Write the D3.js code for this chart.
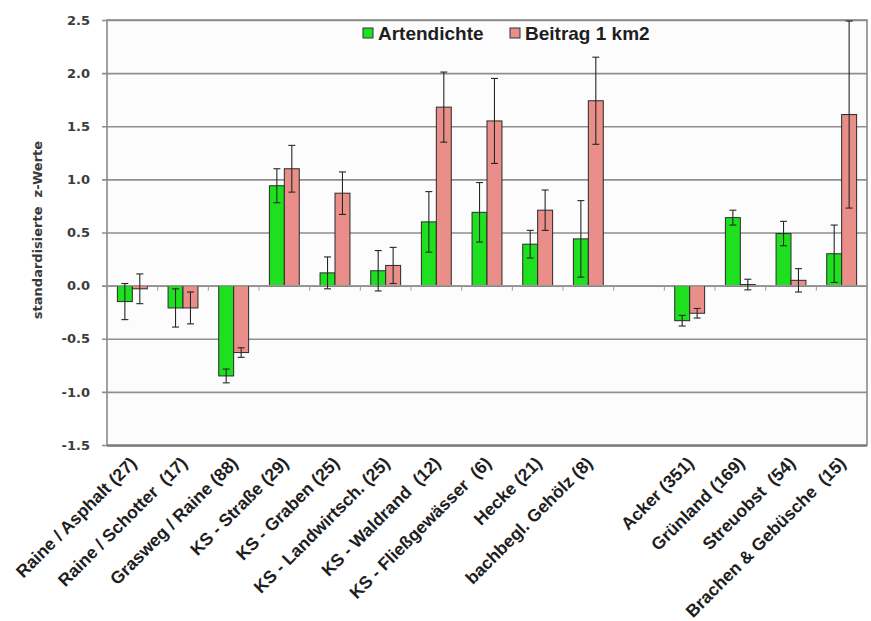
<!DOCTYPE html>
<html>
<head>
<meta charset="utf-8">
<script src="https://cdn.jsdelivr.net/npm/d3@7"></script>
<style>
  html, body { margin: 0; padding: 0; background: #ffffff; }
  svg { display: block; }
</style>
</head>
<body>
<svg id="chart" width="871" height="621"></svg>
<script>
// Habitat categories (sample size in brackets); "" leaves an empty gap between the two groups
const categories = [
  "Raine / Asphalt (27)", "Raine / Schotter  (17)", "Grasweg / Raine (88)",
  "KS - Straße (29)", "KS - Graben (25)", "KS - Landwirtsch. (25)",
  "KS - Waldrand  (12)", "KS - Fließgewässer  (6)", "Hecke (21)",
  "bachbegl. Gehölz (8)", "",
  "Acker (351)", "Grünland (169)", "Streuobst  (54)", "Brachen & Gebüsche  (15)"
];
const seriesNames = ["Artendichte", "Beitrag 1 km2"];
const artendichte    = [-0.15, -0.21, -0.85, 0.94, 0.12, 0.14, 0.60, 0.69, 0.39, 0.44, null, -0.33, 0.64, 0.49, 0.30];
const artendichteErr = [ 0.17,  0.18,  0.065, 0.16, 0.15, 0.19, 0.285, 0.28, 0.13, 0.36, null, 0.05, 0.07, 0.115, 0.27];
const beitrag        = [-0.03, -0.21, -0.63, 1.10, 0.87, 0.19, 1.68, 1.55, 0.71, 1.74, null, -0.26, 0.01, 0.05, 1.61];
const beitragErr     = [ 0.14,  0.15,  0.045, 0.22, 0.20, 0.17, 0.33, 0.40, 0.19, 0.41, null, 0.045, 0.05, 0.11, 0.88];
const yTicks = [-1.5, -1.0, -0.5, 0.0, 0.5, 1.0, 1.5, 2.0, 2.5];

const colors = ["#1fe01f", "#e98e88"];
const values = [artendichte, beitrag];
const errors = [artendichteErr, beitragErr];

const svg = d3.select("#chart");
const plot = { left: 107, right: 867, top: 20, bottom: 445 };

const y = d3.scaleLinear().domain([-1.5, 2.5]).range([plot.bottom, plot.top]);
const x = d3.scaleBand()
  .domain(d3.range(categories.length))
  .range([plot.left, plot.right])
  .paddingInner(0.41)
  .paddingOuter(0.205);
const xs = d3.scaleBand().domain(d3.range(seriesNames.length)).range([0, x.bandwidth()]);
const step = x.step();

// plot area background
svg.append("rect")
  .attr("x", plot.left).attr("y", plot.top)
  .attr("width", plot.right - plot.left).attr("height", plot.bottom - plot.top)
  .attr("fill", "#fcfcfc");

// horizontal gridlines with short outer ticks; labels use a plain hyphen for negatives
const fmt = d => d.toFixed(1);
const yAxis = d3.axisLeft(y).tickValues(yTicks)
  .tickSize(-(plot.right - plot.left)).tickSizeOuter(0)
  .tickFormat(fmt);
const gy = svg.append("g").attr("transform", `translate(${plot.left},0)`).call(yAxis);
gy.select(".domain").remove();
gy.selectAll(".tick line").attr("stroke", "#8e8e8e").attr("stroke-width", 1.6).attr("x1", -5);
gy.selectAll(".tick text")
  .attr("x", -17)
  .attr("fill", "#3c3c3c")
  .style("font-family", "'DejaVu Sans', sans-serif")
  .style("font-weight", "bold")
  .style("font-size", "13px");

// plot border
svg.append("rect")
  .attr("x", plot.left).attr("y", plot.top)
  .attr("width", plot.right - plot.left).attr("height", plot.bottom - plot.top)
  .attr("fill", "none").attr("stroke", "#8a8a8a").attr("stroke-width", 1.6);
svg.append("line")
  .attr("x1", plot.left).attr("x2", plot.right)
  .attr("y1", plot.bottom + 1).attr("y2", plot.bottom + 1)
  .attr("stroke", "#777").attr("stroke-width", 1.5);

// category tick marks on the zero line
const boundaries = d3.range(categories.length + 1).map(i => plot.left + i * step);
svg.append("g").selectAll("line").data(boundaries).join("line")
  .attr("x1", d => d).attr("x2", d => d)
  .attr("y1", y(0)).attr("y2", y(0) + 5)
  .attr("stroke", "#9a9a9a").attr("stroke-width", 1);

// bars
const barData = [];
categories.forEach((c, i) => {
  seriesNames.forEach((s, k) => {
    const v = values[k][i];
    if (v === null) return;
    barData.push({ i, k, v, e: errors[k][i] });
  });
});

svg.append("g").selectAll("rect").data(barData).join("rect")
  .attr("x", d => x(d.i) + xs(d.k))
  .attr("width", xs.bandwidth())
  .attr("y", d => Math.min(y(0), y(d.v)))
  .attr("height", d => Math.abs(y(d.v) - y(0)))
  .attr("fill", d => colors[d.k])
  .attr("stroke", "#2a2a2a").attr("stroke-width", 1);

// zero line
svg.append("line")
  .attr("x1", plot.left).attr("x2", plot.right)
  .attr("y1", y(0)).attr("y2", y(0))
  .attr("stroke", "#9a9a9a").attr("stroke-width", 1.2);

// error bars
const cap = 3.5;
const eg = svg.append("g").attr("stroke", "#262626").attr("stroke-width", 1.1);
barData.forEach(d => {
  const cx = x(d.i) + xs(d.k) + xs.bandwidth() / 2;
  const y1 = y(d.v + d.e), y2 = y(d.v - d.e);
  eg.append("line").attr("x1", cx).attr("x2", cx).attr("y1", y1).attr("y2", y2);
  eg.append("line").attr("x1", cx - cap).attr("x2", cx + cap).attr("y1", y1).attr("y2", y1);
  eg.append("line").attr("x1", cx - cap).attr("x2", cx + cap).attr("y1", y2).attr("y2", y2);
});

// category labels, rotated
svg.append("g").selectAll("text")
  .data(categories.map((c, i) => ({ c, i })).filter(d => d.c !== ""))
  .join("text")
  .attr("transform", d => `translate(${x(d.i) + x.bandwidth() / 2 + 1},${plot.bottom + 15}) rotate(-45)`)
  .attr("text-anchor", "end")
  .attr("dy", "0.35em")
  .attr("fill", "#1e1e1e")
  .style("font-family", "'Liberation Sans', Arial, sans-serif")
  .style("font-weight", "bold")
  .style("font-size", "17.5px")
  .style("white-space", "pre")
  .text(d => d.c);

// y axis title
svg.append("text")
  .attr("transform", `translate(42,230) rotate(-90)`)
  .attr("text-anchor", "middle")
  .attr("fill", "#3a3a3a")
  .style("font-family", "'DejaVu Sans', sans-serif")
  .style("font-weight", "bold")
  .style("font-size", "13px")
  .style("white-space", "pre")
  .text("standardisierte  z-Werte");

// legend
const legendX = [363, 510];
const lg = svg.append("g");
seriesNames.forEach((s, k) => {
  lg.append("rect")
    .attr("x", legendX[k]).attr("y", 28)
    .attr("width", 10).attr("height", 10)
    .attr("fill", colors[k]).attr("stroke", "#333").attr("stroke-width", 1);
  lg.append("text")
    .attr("x", legendX[k] + 15).attr("y", 40)
    .attr("fill", "#1e1e1e")
    .style("font-family", "'Liberation Sans', Arial, sans-serif")
    .style("font-weight", "bold")
    .style("font-size", "19px")
    .text(s);
});
</script>
</body>
</html>
